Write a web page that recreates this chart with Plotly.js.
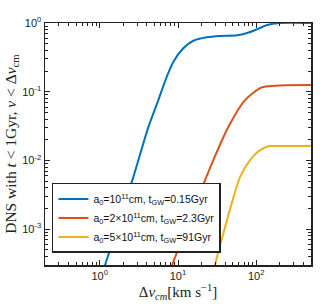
<!DOCTYPE html>
<html><head><meta charset="utf-8">
<script src="https://cdn.plot.ly/plotly-3.0.1.min.js"></script>
<style>html,body{margin:0;padding:0;background:#fff}#chart{width:320px;height:306px}</style>
</head><body><div id="chart"></div>
<script>
const blueX = [1.0, 1.167, 2.64, 4.14, 5.61, 7.18, 8.73, 11.7, 15.7, 23.3, 34.5, 56.9, 76.4, 102, 138, 202, 500];
const blueY = [1.75e-4, 3.0e-4, 5.4e-3, 0.0296, 0.0757, 0.165, 0.274, 0.429, 0.552, 0.619, 0.647, 0.662, 0.715, 0.809, 0.935, 1.0, 1.0];
const redX = [7.3, 8.39, 18.2, 22.2, 28.3, 44.1, 72.1, 117.8, 174.2, 245, 500];
const redY = [2.0e-4, 3.0e-4, 2.96e-3, 5.19e-3, 0.01014, 0.031, 0.0757, 0.1159, 0.1222, 0.1245, 0.1253];
const yelX = [28.0, 29.8, 38.0, 48.6, 62.2, 83.4, 112, 150, 202, 500];
const yelY = [1.5e-4, 3.0e-4, 8.69e-4, 2.38e-3, 5.79e-3, 0.01014, 0.01416, 0.0162, 0.0162, 0.0162];
const names = [
  'a<sub>0</sub>=10<sup>11</sup>cm, t<sub>GW</sub>=0.15Gyr',
  'a<sub>0</sub>=2×10<sup>11</sup>cm, t<sub>GW</sub>=2.3Gyr',
  'a<sub>0</sub>=5×10<sup>11</sup>cm, t<sub>GW</sub>=91Gyr'
];
const xTickVals = [1, 10, 100];
const xTickText = ['10<sup>0</sup>', '10<sup>1</sup>', '10<sup>2</sup>'];
const yTickVals = [1e-3, 1e-2, 1e-1, 1];
const yTickText = ['10<sup>-3</sup>', '10<sup>-2</sup>', '10<sup>-1</sup>', '10<sup>0</sup>'];
const yTitle = 'DNS with <i>t</i> < 1Gyr, <i>v</i> < Δ<i>v</i><sub>cm</sub>';
const xTitle = 'Δ<i>v</i><sub><i>cm</i></sub>[km s<sup>−1</sup>]';

const colors = ['#0072BD', '#D95319', '#EDB120'];
const data = [
  {x: blueX, y: blueY, name: names[0]},
  {x: redX, y: redY, name: names[1]},
  {x: yelX, y: yelY, name: names[2]}
].map((t, i) => Object.assign(t, {type: 'scatter', mode: 'lines', line: {color: colors[i], width: 2, shape: 'spline', smoothing: 0.8}}));

const axBase = {
  type: 'log', showline: true, linecolor: '#222', linewidth: 1.5, mirror: 'ticks',
  ticks: 'inside', ticklen: 5, tickcolor: '#222', tickwidth: 1, showgrid: false, zeroline: false,
  tickfont: {family: 'Liberation Sans, Arial, sans-serif', size: 11, color: '#222'},
  minor: {ticks: 'inside', ticklen: 3, tickcolor: '#222', dtick: 'D1', showgrid: false},
  tickmode: 'array'
};
const layout = {
  width: 320, height: 306,
  margin: {l: 45, r: 9, t: 23, b: 41},
  paper_bgcolor: '#fff', plot_bgcolor: '#fff',
  showlegend: true,
  legend: {x: 0.026, y: 0.339, xanchor: 'left', yanchor: 'top', bgcolor: '#fff', bordercolor: '#222', borderwidth: 1.5,
    font: {family: 'Liberation Sans, Arial, sans-serif', size: 10.5, color: '#111'}, tracegroupgap: 0},
  xaxis: Object.assign({}, axBase, {range: [-0.7, 2.7], tickvals: xTickVals, ticktext: xTickText,
    title: {text: xTitle, font: {family: 'Liberation Serif, serif', size: 15, color: '#222'}, standoff: 4}}),
  yaxis: Object.assign({}, axBase, {range: [-3.52, 0], tickvals: yTickVals, ticktext: yTickText,
    title: {text: yTitle, font: {family: 'Liberation Serif, serif', size: 15.5, color: '#222'}, standoff: 2}})
};
Plotly.newPlot('chart', data, layout, {staticPlot: true, displayModeBar: false});
</script></body></html>
